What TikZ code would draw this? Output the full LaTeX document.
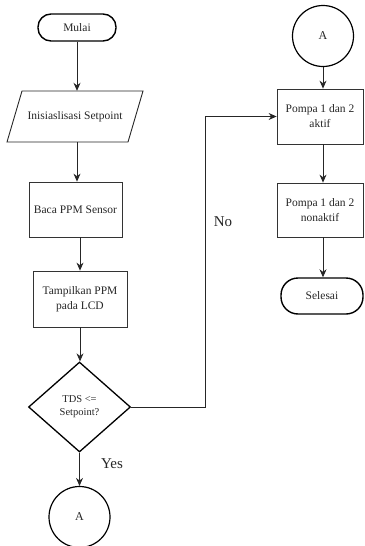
\documentclass[tikz,border=0pt]{standalone}
\usepackage{fontspec}
\setmainfont{Liberation Serif}
\usetikzlibrary{shapes.geometric,arrows.meta}
\begin{document}
\begin{tikzpicture}[x=1pt,y=-1pt,
  every node/.style={font=\fontsize{11.5}{15}\selectfont, text=black!85},
  term/.style={draw=black, line width=1.4pt, rounded corners=13pt, minimum height=27pt, inner sep=0pt},
  procbox/.style={draw=black!80, line width=0.8pt, minimum width=93pt, minimum height=55pt, align=center, inner sep=2pt},
  conn/.style={draw=black, line width=1.2pt, circle, minimum size=61pt, inner sep=0pt, font=\fontsize{12}{14}\selectfont},
  decis/.style={draw=black, line width=1.3pt, diamond, minimum width=102pt, minimum height=90pt, inner sep=0pt, align=center, font=\fontsize{10.5}{13}\selectfont},
  arr/.style={draw=black!85, line width=0.8pt, -{Stealth[length=8pt,width=7pt]}},
  lbl/.style={font=\fontsize{15}{18}\selectfont}]
\useasboundingbox (0,0) rectangle (364,546);

% left column
\node[term, minimum width=78pt] (mulai) at (77,27.5) {Mulai};
\node[minimum width=121pt, minimum height=51pt, inner sep=0pt] (init) at (75,116.5) {Inisiaslisasi Setpoint};
\draw[black!85, line width=0.9pt, shift={(init.center)}] (-53,-25.5) -- (68,-25.5) -- (53,25.5) -- (-68,25.5) -- cycle;
\node[procbox] (baca) at (75.5,209.5) {Baca PPM Sensor};
\node[procbox, minimum width=94pt, minimum height=56pt] (tamp) at (80,299) {Tampilkan PPM\\pada LCD};
\node[decis] (dec) at (79.5,407) {TDS <=\\Setpoint?};
\node[conn] (a1) at (79.5,517) {A};

% right column
\node[conn] (a2) at (323,36) {A};
\node[procbox, minimum width=86pt, minimum height=55pt] (aktif) at (320,116.5) {Pompa 1 dan 2\\aktif};
\node[procbox, minimum width=86pt, minimum height=54pt] (nonaktif) at (320,210) {Pompa 1 dan 2\\nonaktif};
\node[term, minimum width=82pt, minimum height=36pt, rounded corners=17pt] (selesai) at (322,296) {Selesai};

% connectors
\draw[arr] (mulai.south) -- (mulai.south |- init.north);
\draw[arr] (mulai.south |- init.south) -- (mulai.south |- baca.north);
\draw[arr] (tamp.north |- baca.south) -- (tamp.north);
\draw[arr] (tamp.south) -- (tamp.south |- dec.north);
\draw[arr] (dec.south) -- (a1.north);
\draw[arr] (a2.south) -- (a2.south |- aktif.north);
\draw[arr] (a2.south |- aktif.south) -- (a2.south |- nonaktif.north);
\draw[arr] (a2.south |- nonaktif.south) -- (a2.south |- selesai.north);
\draw[arr] (dec.east) -- ++(74,0) |- (aktif.west);

% labels
\node[lbl] (yes) at (112,464) {Yes};
\node[lbl] (no) at (223,222) {No};
\end{tikzpicture}
\end{document}
